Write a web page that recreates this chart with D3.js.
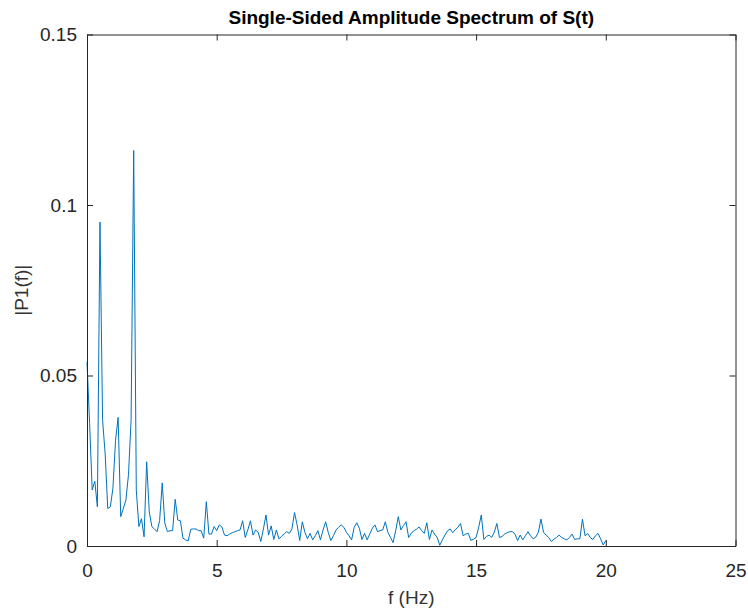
<!DOCTYPE html>
<html>
<head>
<meta charset="utf-8">
<script src="https://cdn.jsdelivr.net/npm/d3@7"></script>
<style>
  body { margin: 0; background: #fff; }
  text { font-family: "Liberation Sans", Arial, sans-serif; fill: #262626; }
</style>
</head>
<body>
<div id="chart"></div>
<script>
// Spectrum samples, 0.1 Hz apart from 0 to 20 Hz
var amp0to5 = [0.054, 0.036, 0.0164, 0.019, 0.0115, 0.095, 0.037, 0.027, 0.011, 0.0115,
	0.017, 0.031, 0.0377, 0.0086, 0.011, 0.0135, 0.021, 0.037, 0.116, 0.0164,
	0.0057, 0.008, 0.0027, 0.0247, 0.010, 0.0057, 0.005, 0.0042, 0.0075, 0.0185,
	0.0067, 0.0042, 0.0045, 0.0045, 0.0137, 0.0076, 0.0074, 0.0023, 0.0018, 0.0015,
	0.0049, 0.005, 0.005, 0.0045, 0.0045, 0.0023, 0.013, 0.0035, 0.0035, 0.0057, 0.0045];
var amp5to10 = [0.0062, 0.0056, 0.0032, 0.003, 0.0035, 0.0039, 0.0042, 0.0045, 0.0047, 0.0074,
	0.0025, 0.0047, 0.0074, 0.0032, 0.0047, 0.004, 0.0013, 0.005, 0.0091, 0.0032,
	0.0059, 0.0019, 0.0047, 0.0021, 0.0028, 0.0035, 0.0042, 0.0037, 0.005, 0.0098,
	0.0062, 0.0016, 0.0071, 0.004, 0.0021, 0.0037, 0.0018, 0.003, 0.0045, 0.0018,
	0.0047, 0.0071, 0.004, 0.0016, 0.003, 0.0047, 0.0055, 0.0062, 0.0055, 0.004];
var amp10to15 = [0.003, 0.0018, 0.0055, 0.0068, 0.0052, 0.0019, 0.0037, 0.0018, 0.0035, 0.0052,
	0.0062, 0.0042, 0.0045, 0.0047, 0.0071, 0.004, 0.0025, 0.001, 0.0045, 0.0086,
	0.0047, 0.006, 0.0071, 0.0025, 0.0037, 0.0045, 0.0049, 0.0056, 0.0045, 0.0037,
	0.0068, 0.0019, 0.0047, 0.0035, 0.0025, 0.0002, 0.0018, 0.0032, 0.0045, 0.005,
	0.0039, 0.0048, 0.0055, 0.0066, 0.003, 0.0035, 0.0037, 0.0016, 0.002, 0.0025];
var amp15to20 = [0.0055, 0.0091, 0.0019, 0.0028, 0.0032, 0.0025, 0.004, 0.0066, 0.0025, 0.0028,
	0.0035, 0.0039, 0.0042, 0.0042, 0.0035, 0.0016, 0.0032, 0.0018, 0.003, 0.0042,
	0.003, 0.0021, 0.0026, 0.004, 0.0079, 0.004, 0.0032, 0.0025, 0.0013, 0.002,
	0.0025, 0.0032, 0.0025, 0.0021, 0.0018, 0.0025, 0.0035, 0.0019, 0.0021, 0.0021,
	0.0079, 0.003, 0.0037, 0.0025, 0.0019, 0.003, 0.0037, 0.0021, 0.0003, 0.0016];

var xTicks = [0, 5, 10, 15, 20, 25];
var yTicks = [0, 0.05, 0.1, 0.15];
var yTickLabels = ['0', '0.05', '0.1', '0.15'];

var amps = amp0to5.concat(amp5to10, amp10to15, amp15to20);
var spectrum = amps.map((a, i) => ({f: i / 10, a: a}));

var width = 748, height = 615;
var margin = {top: 34.5, right: 12.5, bottom: 69, left: 87};
var plotW = width - margin.left - margin.right;
var plotH = height - margin.top - margin.bottom;

var xScale = d3.scaleLinear().domain([0, 25]).range([0, plotW]);
var yScale = d3.scaleLinear().domain([0, 0.15]).range([plotH, 0]);

var svg = d3.select('#chart').append('svg')
		.attr('width', width)
		.attr('height', height);

var g = svg.append('g')
		.attr('transform', 'translate(' + margin.left + ',' + margin.top + ')');

// spectrum line
g.append('path')
		.datum(spectrum)
		.attr('fill', 'none')
		.attr('stroke', '#0072BD')
		.attr('stroke-width', 1)
		.attr('d', d3.line().x(d => xScale(d.f)).y(d => yScale(d.a)));

// axes, ticks point inward like MATLAB
function styleAxis(sel) {
	sel.select('.domain').attr('stroke', '#262626');
	sel.selectAll('.tick line').attr('stroke', '#262626');
	sel.selectAll('.tick text').style('font-size', '19px').attr('fill', '#333');
}

g.append('g')
		.attr('transform', 'translate(0,' + plotH + ')')
		.call(d3.axisBottom(xScale).tickValues(xTicks).tickSizeInner(-6).tickSizeOuter(0).tickPadding(18))
		.call(styleAxis)
		.call(s => s.selectAll('.tick text').attr('dy', '0.71em'));

g.append('g')
		.call(d3.axisLeft(yScale).tickValues(yTicks).tickFormat((d, i) => yTickLabels[i])
				.tickSizeInner(-6).tickSizeOuter(0).tickPadding(10))
		.call(styleAxis);

g.append('g')
		.call(d3.axisTop(xScale).tickValues(xTicks).tickSizeInner(-6).tickSizeOuter(0).tickFormat(''))
		.call(styleAxis);

g.append('g')
		.attr('transform', 'translate(' + plotW + ',0)')
		.call(d3.axisRight(yScale).tickValues(yTicks).tickSizeInner(-6).tickSizeOuter(0).tickFormat(''))
		.call(styleAxis);

// labels
svg.append('text')
		.attr('x', margin.left + plotW / 2)
		.attr('y', 24)
		.attr('text-anchor', 'middle')
		.style('font-size', '19px')
		.style('font-weight', 'bold')
		.style('fill', '#000')
		.text('Single-Sided Amplitude Spectrum of S(t)');

svg.append('text')
		.attr('x', margin.left + plotW / 2)
		.attr('y', 604)
		.attr('text-anchor', 'middle')
		.style('font-size', '19px')
		.style('fill', '#333')
		.text('f (Hz)');

svg.append('text')
		.attr('transform', 'translate(28,' + (margin.top + plotH / 2) + ') rotate(-90)')
		.attr('text-anchor', 'middle')
		.style('font-size', '19px')
		.style('fill', '#333')
		.text('|P1(f)|');
</script>
</body>
</html>
